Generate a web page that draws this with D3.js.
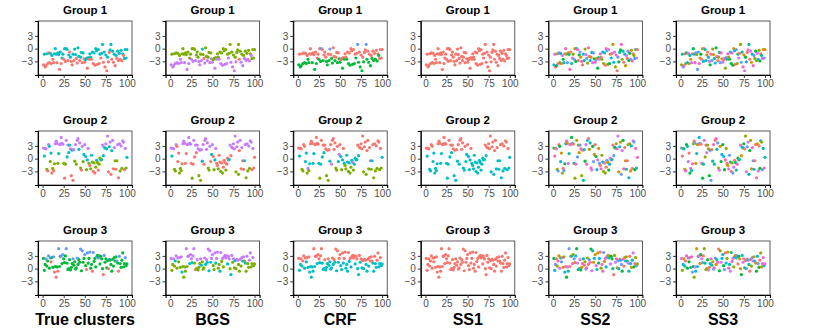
<!DOCTYPE html>
<html><head><meta charset="utf-8">
<script src="https://cdn.jsdelivr.net/npm/d3@7"></script>
<style>body{margin:0;background:#fff}svg{display:block}</style>
</head><body><svg id="c" width="830" height="332"></svg>
<script>
// ---- data ----
const methods = ["True clusters","BGS","CRF","SS1","SS2","SS3"];
const groups = ["Group 1","Group 2","Group 3"];
const xTicks = [0,25,50,75,100];
const yTicks = [-3,0,3];

const yGroup1 = [-3.8,-1.3,-4.3,-4.0,-1.2,-3.5,-1.0,-3.3,-1.1,-3.5,
 -1.6,-2.5,-3.3,-1.2,0.0,-1.3,-3.3,-1.0,-1.4,-4.9,
 -0.8,-3.5,-2.2,-1.3,-2.5,0.0,-3.0,0.0,-0.2,-2.8,
 -1.5,-0.8,-2.0,-3.0,-3.8,-1.3,-2.8,-0.1,-1.4,-2.3,
 -3.4,0.2,-1.8,-2.8,-2.0,-0.9,-3.3,-1.0,-2.4,-3.2,
 -2.6,-2.3,-4.6,-2.1,-2.5,-1.2,-2.0,-2.5,-0.8,-3.5,
 -1.0,-3.9,0.0,-0.5,-3.7,-0.2,-3.5,-1.3,-2.2,-1.1,
 1.0,-3.2,-0.8,-4.3,-1.5,-5.2,-2.0,-3.1,-0.9,-0.3,
 1.0,-2.5,-0.6,-3.2,-1.3,-4.0,-1.6,-2.3,-0.6,-2.8,
 -1.1,-2.5,-0.4,-2.9,-1.2,-1.6,-2.3,-0.2,-2.2,-0.2];
const yGroup2 = [2.5,0.6,2.4,2.3,-2.5,-2.9,3.3,2.9,-0.7,1.3,
 -3.4,-2.3,-2.8,-1.2,3.5,4.1,3.6,-1.1,1.2,3.3,
 3.4,5.0,3.6,3.4,-1.1,-4.6,-1.3,4.3,0.4,3.2,
 1.4,3.2,2.3,-4.0,2.0,-5.1,2.1,-0.6,3.3,-1.3,
 4.3,4.7,2.2,3.7,-2.2,-2.7,2.9,-0.7,1.0,3.3,
 0.5,-2.6,-0.3,2.4,-1.1,-1.6,-2.4,0.8,-0.8,-3.0,
 -1.0,-3.4,-2.0,-0.4,-0.9,-2.7,-1.3,0.1,-0.3,-0.2,
 3.2,0.7,2.7,2.5,3.5,2.3,5.3,-3.1,2.8,3.9,
 -3.7,1.9,4.3,-2.4,2.6,-0.5,-2.5,-0.5,3.3,-4.5,
 3.5,-2.9,3.0,-2.3,4.2,3.9,-2.6,2.4,-2.2,0.3];
const yGroup3 = [2.4,-0.4,1.0,2.3,0.6,1.8,3.0,0.1,2.5,1.6,
 2.6,0.3,2.8,-0.8,0.5,-2.0,0.4,-0.6,4.7,0.5,
 2.9,3.0,1.2,3.3,2.3,1.4,3.0,4.7,1.3,-0.2,
 0.0,2.1,-0.3,0.3,1.2,2.3,0.8,1.6,-0.1,0.2,
 2.5,1.0,2.1,1.5,4.6,-0.5,4.2,1.5,2.4,3.3,
 0.7,-0.2,3.7,1.3,2.4,3.9,0.1,1.0,-0.6,3.8,
 1.7,2.4,0.4,2.8,3.1,2.5,3.0,1.1,2.9,2.3,
 0.0,-1.4,3.1,1.5,2.3,0.2,1.9,0.0,2.2,2.0,
 1.0,-0.6,2.2,0.6,2.6,1.8,2.8,1.8,1.3,-0.6,
 2.9,1.2,0.3,2.0,3.7,0.4,1.2,2.6,0.7,1.1];

// cluster labels per point (digit = cluster index), one string per group
const labTrue = [
 "0100100010"+"1001110110"+"1011010110"+"1010010110"+"0110110100"+"1101011010"+"1011010101"+"1010101001"+"1010101010"+"1010101111",
 "3233103212"+"0101333123"+"3333101323"+"2230203131"+"3323103123"+"2123101210"+"1012101112"+"3232323023"+"0230310130"+"3131330312",
 "1112112120"+"1120101021"+"1212111211"+"1111121111"+"2111212112"+"1021121102"+"1112121111"+"1021111021"+"1111111210"+"2111111211"];
const labBGS = [
 "3133131313"+"1331113113"+"1311313113"+"1113313210"+"3113113133"+"1131311313"+"1311313131"+"1313131311"+"1013131313"+"1313131111",
 "3233113000"+"1110333003"+"3333010303"+"0331313230"+"3333113023"+"0123001001"+"0100010002"+"3033333133"+"1030300231"+"3131330300",
 "3113123131"+"3132111131"+"3323323310"+"1311132111"+"3232323233"+"1132331123"+"1313333233"+"1231312133"+"1131323121"+"3113311311"];
const labCRF = [
 "1011010101"+"0110001001"+"0100101201"+"0001101201"+"1001001011"+"0010100101"+"0100101010"+"2101010100"+"2101010101"+"0101010000",
 "0200110022"+"1312000220"+"0000212020"+"2001010203"+"0000110230"+"2120211221"+"2112312222"+"0200000100"+"1001031201"+"0101001012",
 "0110100101"+"0101111101"+"0010010011"+"1011101111"+"0101010100"+"1101001110"+"1010000100"+"1101010100"+"1101000011"+"0110011011"];
const labSS1 = [
 "0000000000"+"0000000000"+"0000000000"+"0000000000"+"0000000000"+"0000000000"+"0000000000"+"0000000000"+"0000000000"+"0000000000",
 "0100110011"+"1111000110"+"0000111010"+"1001010101"+"0000110110"+"1110111111"+"1111111111"+"0100000100"+"1001011101"+"0101001011",
 "0000000000"+"0000000000"+"0000000000"+"0000000000"+"0000000000"+"0000000000"+"0000000000"+"0000000000"+"0000000000"+"0000000000"];
const labSS2 = [
 "5703186241"+"7350826148"+"0472613580"+"3618054276"+"2805147638"+"6134780252"+"4086273158"+"1572806343"+"8240517063"+"3618025470",
 "4817260351"+"2063581748"+"7350428162"+"1682045378"+"5024873610"+"3571608242"+"8206135774"+"0643287151"+"6738014025"+"2150763848",
 "3560281746"+"8125037460"+"0482615373"+"5731840268"+"2068374151"+"7413502886"+"1856042733"+"4027816505"+"6380152474"+"0514738262"];
const labSS3 = [
 "2468013572"+"4170358626"+"6813025744"+"1057386214"+"5380246817"+"0726481353"+"8315062470"+"2648173508"+"4071586232"+"7523048161",
 "6025183470"+"3748206151"+"1560834728"+"7213560484"+"0846271353"+"5382017640"+"2670448315"+"8154302767"+"4321865008"+"1703526484",
 "7251408363"+"0486327515"+"5813760242"+"2370584168"+"6148032755"+"3605218474"+"8724156031"+"1357840626"+"4082671513"+"5630218847"];
const nClusters = [[2,4,3],[4,4,4],[3,4,2],[1,2,1],[9,9,9],[9,9,9]];

const huePal = {
 1:["#F8766D"],
 2:["#F8766D","#00BFC4"],
 3:["#F8766D","#00BA38","#619CFF"],
 4:["#F8766D","#7CAE00","#00BFC4","#C77CFF"],
 9:["#F8766D","#D39200","#93AA00","#00BA38","#00C19F","#00B9E3","#619CFF","#DB72FB","#FF61C3"]
};

// ---- drawing ----
const yData = [yGroup1,yGroup2,yGroup3];
const labels = [labTrue,labBGS,labCRF,labSS1,labSS2,labSS3];
const svg = d3.select("#c");
const font = "'Liberation Sans', Arial, sans-serif";
const colStep = 127.6, rowStep = 110;
const pw = 94, ph = 54, left0 = 38, top0 = 21;

methods.forEach((m, c) => {
  groups.forEach((g, r) => {
    const x0 = left0 + c*colStep, y0 = top0 + r*rowStep;
    const gx = svg.append("g").attr("transform", `translate(${x0},${y0})`);
    const xs = d3.scaleLinear().domain([-5.5,106]).range([0,pw]);
    const ys = d3.scaleLinear().domain([-6.2,6.5]).range([ph,0]);
    const pal = huePal[nClusters[c][r]];
    const lab = labels[c][r];
    const pts = yData[r].map((v,i) => ({x:i+1, y:v, k:+lab[i] || 0}));
    gx.append("rect").attr("width",pw).attr("height",ph)
      .attr("fill","#fff").attr("stroke","#333").attr("stroke-width",0.8);
    gx.selectAll("circle").data(pts).join("circle")
      .attr("cx",d=>xs(d.x)).attr("cy",d=>ys(d.y)).attr("r",1.6)
      .attr("fill",d=>pal[d.k % pal.length]);
    const ax = gx.append("g").attr("transform",`translate(0,${ph})`)
      .call(d3.axisBottom(xs).tickValues(xTicks).tickSize(3).tickPadding(2).tickFormat(d3.format("d")));
    const ay = gx.append("g")
      .call(d3.axisLeft(ys).tickValues(yTicks).tickSize(3).tickPadding(2).tickFormat(d=>d<0?"\u2212"+Math.abs(d):d));
    [ax,ay].forEach(a=>{
      a.select(".domain").attr("stroke","#000").attr("stroke-width",1.1);
      a.selectAll(".tick line").attr("stroke","#333");
      a.selectAll(".tick text").attr("fill","#4D4D4D").style("font-family",font).style("font-size","10px");
    });
    gx.append("text").attr("x",pw/2).attr("y",-7).attr("text-anchor","middle")
      .style("font-family",font).style("font-weight","bold").style("font-size","11.5px").text(g);
  });
  svg.append("text").attr("x",left0 + c*colStep + pw/2).attr("y",325).attr("text-anchor","middle")
    .style("font-family",font).style("font-weight","bold").style("font-size","16px").text(m);
});
</script></body></html>
